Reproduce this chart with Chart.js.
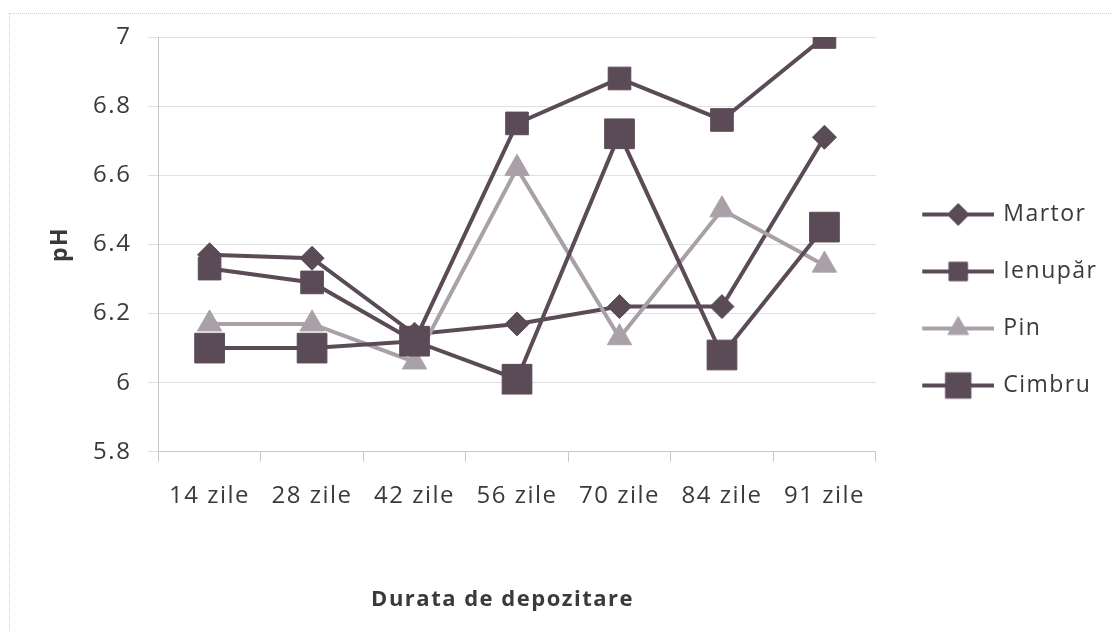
<!DOCTYPE html>
<html>
<head>
<meta charset="utf-8">
<script src="https://cdn.jsdelivr.net/npm/chart.js@4.4.1/dist/chart.umd.min.js"></script>
<style>
  html, body { margin: 0; padding: 0; background: #fff; }
  #wrap { position: relative; width: 1119px; height: 637px; }
  #frame { position: absolute; left: 9px; top: 13px; width: 1101px; height: 617px;
           border-top: 1px dotted #cfcfcf; border-left: 1px dotted #cfcfcf; }
  canvas { position: absolute; left: 0; top: 0; }
</style>
</head>
<body>
<div id="wrap">
  <div id="frame"></div>
  <canvas id="myChart" width="1119" height="637"></canvas>
</div>
<script>
// zile de depozitare
const labels = ["14 zile", "28 zile", "42 zile", "56 zile", "70 zile", "84 zile", "91 zile"];
const martor  = [6.37, 6.36, 6.14, 6.17, 6.22, 6.22, 6.71];
const ienupar = [6.33, 6.29, 6.12, 6.75, 6.88, 6.76, 7.00];
const pin     = [6.17, 6.17, 6.06, 6.62, 6.13, 6.50, 6.34];
const cimbru  = [6.10, 6.10, 6.12, 6.01, 6.72, 6.08, 6.45];
const yTicks  = [5.8, 6, 6.2, 6.4, 6.6, 6.8, 7];

const dark = "#5b4b57";
const light = "#a9a1a7";
const textColor = "#3a3a3a";
const fontFam = "'Open Sans', sans-serif";

// imagine pentru legenda: linie + marker
function legendImage(color, style, radius) {
  const c = document.createElement("canvas");
  c.width = 87;
  c.height = 34;
  const g = c.getContext("2d");
  g.strokeStyle = color;
  g.lineWidth = 4;
  g.beginPath();
  g.moveTo(15, 17);
  g.lineTo(87, 17);
  g.stroke();
  g.fillStyle = color;
  g.strokeStyle = color;
  g.lineWidth = 1;
  Chart.helpers.drawPoint(g, { pointStyle: style, radius: radius, rotation: 0, borderWidth: 1 }, 51, 17);
  return c;
}

function serie(label, data, color, style, radius, order, legR) {
  return {
    label: label,
    data: data,
    borderColor: color,
    backgroundColor: color,
    borderWidth: 4,
    pointStyle: style,
    pointRadius: radius,
    pointHoverRadius: radius,
    pointBorderWidth: 1,
    pointBackgroundColor: color,
    pointBorderColor: color,
    fill: false,
    tension: 0,
    order: order,
    legendImg: legendImage(color, style, legR)
  };
}

const datasets = [
  serie("Martor", martor, dark, "rectRot", 12, 4, 11),
  serie("Ienupăr", ienupar, dark, "rect", 16, 3, 13),
  serie("Pin", pin, light, "triangle", 14, 2, 12),
  serie("Cimbru", cimbru, dark, "rect", 21, 1, 18)
];

const spacing = {
  id: "spacing",
  beforeDraw(chart) { chart.ctx.letterSpacing = "1.5px"; }
};

let ctx = document.getElementById("myChart");
let myChart = new Chart(ctx, {
  type: "line",
  data: { labels: labels, datasets: datasets },
  plugins: [spacing],
  options: {
    responsive: false,
    animation: false,
    layout: { padding: { left: 10, top: 37, right: 22, bottom: 10 } },
    plugins: {
      tooltip: { enabled: false },
      legend: {
        position: "right",
        align: "start",
        title: { display: true, text: " ", font: { size: 10 }, padding: { top: 120, bottom: 0 } },
        labels: {
          usePointStyle: true,
          pointStyleWidth: 82,
          padding: 34,
          color: textColor,
          font: { family: fontFam, size: 23 },
          generateLabels(chart) {
            return chart.data.datasets.map((d, i) => ({
              text: d.label,
              pointStyle: d.legendImg,
              fillStyle: d.borderColor,
              strokeStyle: d.borderColor,
              lineWidth: 0,
              fontColor: textColor,
              datasetIndex: i,
              hidden: false
            }));
          }
        }
      }
    },
    scales: {
      x: {
        offset: true,
        grid: { offset: true, drawOnChartArea: false, drawTicks: true, tickLength: 10, color: "#c8c8c8" },
        border: { color: "#c8c8c8" },
        ticks: { color: textColor, font: { family: fontFam, size: 24 }, padding: 20, maxRotation: 0 },
        title: {
          display: true,
          text: "Durata de depozitare    ",
          color: textColor,
          font: { family: fontFam, size: 22, weight: "bold" },
          padding: { top: 56, bottom: 14 }
        }
      },
      y: {
        min: 5.8,
        max: 7,
        afterBuildTicks(scale) { scale.ticks = yTicks.map(v => ({ value: v })); },
        grid: { color: "#e0e0e0", tickLength: 10 },
        border: { color: "#c8c8c8" },
        ticks: {
          color: textColor,
          font: { family: fontFam, size: 24 },
          padding: 17,
          callback: v => String(+Number(v).toFixed(1))
        },
        title: {
          display: true,
          text: "pH",
          color: textColor,
          font: { family: fontFam, size: 23, weight: "bold" },
          padding: { top: 37, bottom: 6 }
        }
      }
    }
  }
});
</script>
</body>
</html>
